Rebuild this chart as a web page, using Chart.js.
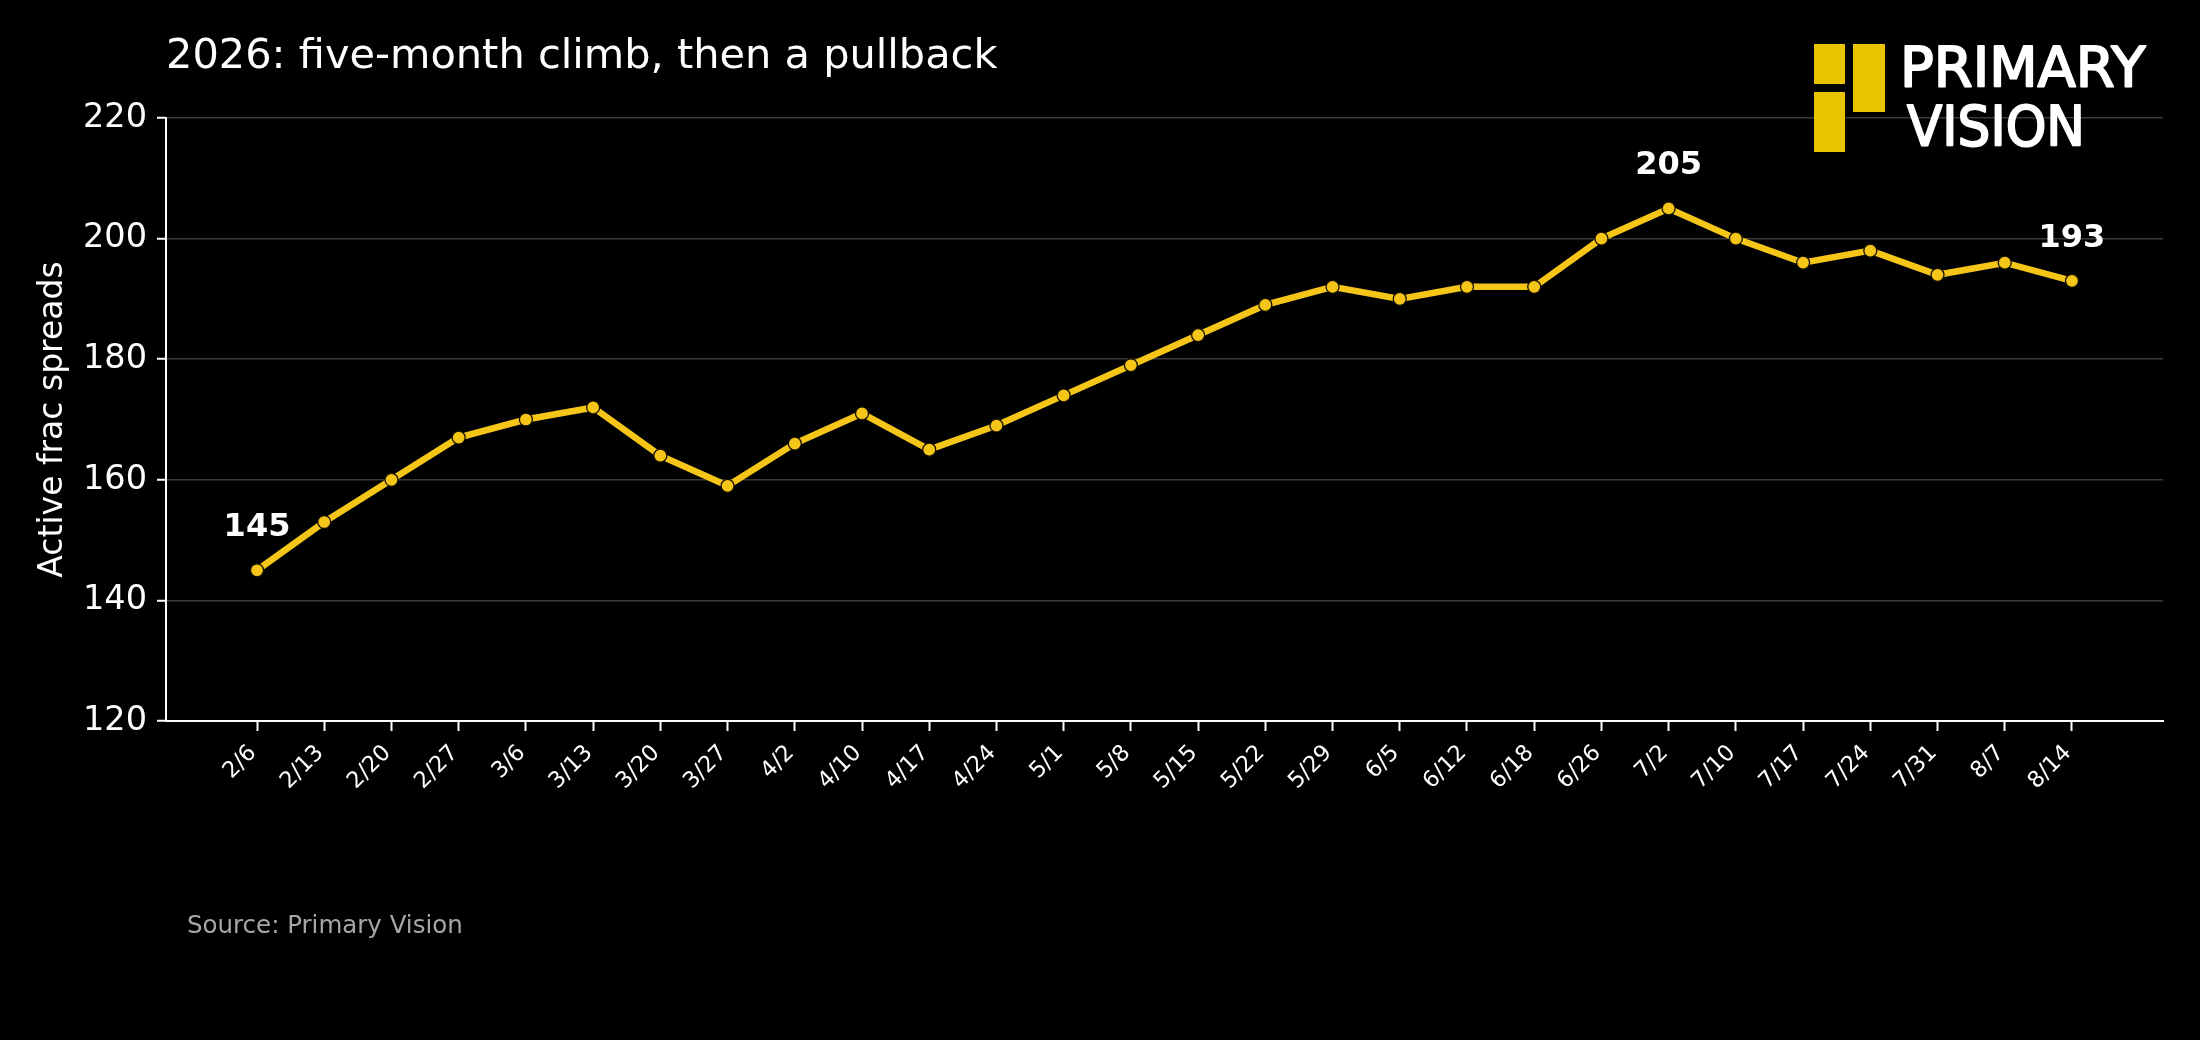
<!DOCTYPE html>
<html>
<head>
<meta charset="utf-8">
<script src="https://cdn.jsdelivr.net/npm/chart.js@4.4.1/dist/chart.umd.min.js"></script>
<style>
html,body{margin:0;padding:0;background:#000;}
#wrap{width:2200px;height:1040px;position:relative;background:#000;}
canvas{display:block;}
</style>
</head>
<body>
<div id="wrap"><canvas id="c" width="2200" height="1040"></canvas></div>
<script>
// ---- data ----
const weekLabels = ['2/6','2/13','2/20','2/27','3/6','3/13','3/20','3/27','4/2','4/10','4/17','4/24','5/1','5/8','5/15','5/22','5/29','6/5','6/12','6/18','6/26','7/2','7/10','7/17','7/24','7/31','8/7','8/14'];
const activeSpreads = [145,153,160,167,170,172,164,159,166,171,165,169,174,179,184,189,192,190,192,192,200,205,200,196,198,194,196,193];
const annotatedIdx = [0, 21, 27];
const yMin = 120, yMax = 220, yStep = 20;
const chartTitle = '2026: five-month climb, then a pullback';
const yAxisTitle = 'Active frac spreads';
const sourceNote = 'Source: Primary Vision';
const logoWords = ['PRIMARY', 'VISION'];

const GOLD = '#F5C518';
const FONT = '"DejaVu Sans", "Liberation Sans", sans-serif';

const decor = {
  id: 'decor',
  afterDatasetsDraw(chart) {
    const ctx = chart.ctx;
    const xs = chart.scales.x, ys = chart.scales.y;
    ctx.save();
    ctx.fillStyle = '#ffffff';
    ctx.font = 'bold 32px ' + FONT;
    ctx.textAlign = 'center';
    ctx.textBaseline = 'alphabetic';
    annotatedIdx.forEach(i => {
      const px = xs.getPixelForValue(i);
      const py = ys.getPixelForValue(activeSpreads[i]);
      ctx.fillText(String(activeSpreads[i]), px, py - 34);
    });
    ctx.restore();
  },
  afterDraw(chart) {
    const ctx = chart.ctx;
    ctx.save();
    // title
    ctx.fillStyle = '#ffffff';
    ctx.font = '41.5px ' + FONT;
    ctx.textAlign = 'left';
    ctx.textBaseline = 'alphabetic';
    ctx.fillText(chartTitle, 166, 68);
    // source
    ctx.fillStyle = '#a6a6a6';
    ctx.font = '24.5px ' + FONT;
    ctx.fillText(sourceNote, 187, 933);
    // logo blocks
    ctx.fillStyle = '#E8C400';
    ctx.fillRect(1814, 44, 31, 40);
    ctx.fillRect(1853, 44, 32, 68);
    ctx.fillRect(1814, 92, 31, 60);
    // logo words
    ctx.fillStyle = '#ffffff';
    ctx.strokeStyle = '#ffffff';
    ctx.lineWidth = 2;
    ctx.lineJoin = 'round';
    ctx.font = '56px ' + FONT;
    ctx.fillText(logoWords[0], 1900, 86, 248);
    ctx.strokeText(logoWords[0], 1900, 86, 248);
    ctx.fillText(logoWords[1], 1907, 145, 178);
    ctx.strokeText(logoWords[1], 1907, 145, 178);
    ctx.restore();
  }
};

new Chart(document.getElementById('c'), {
  type: 'line',
  data: {
    datasets: [{
      data: activeSpreads.map((v, i) => ({ x: i, y: v })),
      borderColor: GOLD,
      borderWidth: 6.5,
      pointRadius: 6.5,
      pointBackgroundColor: GOLD,
      pointBorderColor: '#141000',
      pointBorderWidth: 1.3,
      tension: 0,
      fill: false
    }]
  },
  options: {
    responsive: false,
    devicePixelRatio: 1,
    animation: false,
    layout: { padding: { top: 118, right: 37, left: 0, bottom: 0 } },
    plugins: { legend: { display: false }, tooltip: { enabled: false } },
    scales: {
      x: {
        type: 'linear',
        min: -1.354,
        max: weekLabels.length - 1 + 1.354,
        afterBuildTicks: s => { s.ticks = weekLabels.map((_, i) => ({ value: i })); },
        afterFit: s => { s.height = 319; },
        ticks: {
          autoSkip: false,
          maxRotation: 45,
          minRotation: 45,
          color: '#ffffff',
          font: { family: FONT, size: 22.5 },
          padding: 9,
          labelOffset: -4,
          callback: v => weekLabels[v] !== undefined ? weekLabels[v] : ''
        },
        grid: { drawOnChartArea: false, drawTicks: true, tickLength: 10, tickColor: '#ffffff', tickWidth: 2 },
        border: { display: true, color: '#ffffff', width: 2 }
      },
      y: {
        min: yMin,
        max: yMax,
        afterFit: s => { s.width = 166; },
        ticks: {
          stepSize: yStep,
          color: '#ffffff',
          font: { family: FONT, size: 33.5 },
          padding: 10
        },
        grid: { color: '#3a3a3a', lineWidth: 1.5, tickLength: 9, tickColor: '#ffffff', tickWidth: 2 },
        border: { display: true, color: '#ffffff', width: 2 },
        title: {
          display: true,
          text: yAxisTitle,
          color: '#ffffff',
          font: { family: FONT, size: 33 },
          padding: { top: 34, bottom: 0 }
        }
      }
    }
  },
  plugins: [decor]
});
</script>
</body>
</html>
